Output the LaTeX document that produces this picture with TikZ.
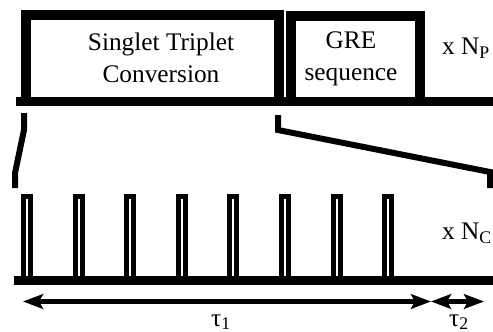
\documentclass[tikz,border=0pt]{standalone}
\usepackage{fontspec}
\setmainfont{Liberation Serif}
\usetikzlibrary{arrows.meta}

\tikzset{every picture/.style={line width=0.75pt}}
\tikzset{
  block/.style={line width=7.5pt, line join=miter},
  baseline/.style={line width=6.75pt},
  zoomline/.style={line width=4.5pt, line join=miter},
  pulse/.style={line width=3.75pt},
  span/.style={line width=3.75pt, {Stealth[length=15pt,width=11pt,inset=3pt]}-{Stealth[length=15pt,width=11pt,inset=3pt]}},
  label/.style={inner sep=0.75pt, font=\fontsize{19}{24}\selectfont, align=center}
}

\begin{document}
\begin{tikzpicture}[x=0.75pt,y=0.75pt,yscale=-1,xscale=1]
    \useasboundingbox (0,0) rectangle (493,332); %set diagram size 493 x 332
    % Block: singlet triplet conversion
    \draw[block]    (26,101.5) -- (26,15) -- (279,15) -- (279,101.5) ;
    % Block: GRE sequence
    \draw[block]    (291,101.5) -- (291,16) -- (420,16) -- (420,101.5) ;
    % Top time line
    \draw[baseline]    (16,101.5) -- (493,101.5) ;
    % Text Node
    \node[label] (stc) at (161,58) {Singlet Triplet\\Conversion};
    % Text Node
    \node[label] (gre) at (351,59) {GRE\\sequence};
    % Text Node
    \node[label] (np) at (466,48) {x N\textsubscript{P}};
    % Zoom lines
    \draw[zoomline]    (24,113) -- (24,130) -- (15,173) -- (15,188) ;
    \draw[zoomline]    (278,115) -- (278,130) -- (490,172) -- (490,188) ;
    % Pulses
    \draw[pulse]    (23.5,280) rectangle (30.5,196.5) ;
    \draw[pulse]    (75.1,280) rectangle (82.1,196.5) ;
    \draw[pulse]    (126.5,280) rectangle (133.5,196.5) ;
    \draw[pulse]    (178.3,280) rectangle (185.3,196.5) ;
    \draw[pulse]    (229.9,280) rectangle (236.9,196.5) ;
    \draw[pulse]    (281.5,280) rectangle (288.5,196.5) ;
    \draw[pulse]    (333.1,280) rectangle (340.1,196.5) ;
    \draw[pulse]    (384.5,280) rectangle (391.5,196.5) ;
    % Bottom time line
    \draw[baseline]    (14,280) -- (493,280) ;
    % Text Node
    \node[label] (nc) at (467,233) {x N\textsubscript{C}};
    % Durations
    \coordinate (tauL) at (23,301.5);
    \coordinate (tauM) at (431,301.5);
    \coordinate (tauR) at (484,301.5);
    \draw[span]    (tauL) -- (tauM) ;
    \draw[span]    (tauM) -- (tauR) ;
    % Text Node
    \node[label, anchor=base] (t1) at (221,326) {τ\textsubscript{1}};
    % Text Node
    \node[label, anchor=base] (t2) at (459,326) {τ\textsubscript{2}};
\end{tikzpicture}
\end{document}
